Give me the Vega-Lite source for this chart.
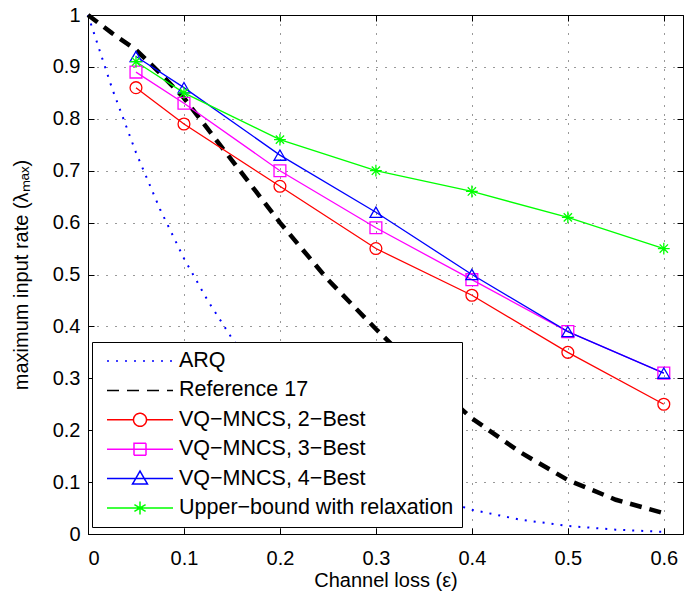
{
  "$schema": "https://vega.github.io/schema/vega-lite/v6.json",
  "width": 595,
  "height": 519,
  "autosize": {"type": "none"},
  "padding": {"left": 88, "top": 15, "right": 1, "bottom": 62},
  "background": "white",
  "config": {
    "font": "Liberation Sans",
    "view": {"stroke": "black", "strokeWidth": 1},
    "axis": {
      "labelFont": "Liberation Sans", "labelFontSize": 20, "labelColor": "black",
      "titleFont": "Liberation Sans", "titleFontSize": 20, "titleFontWeight": "normal", "titleColor": "black",
      "domainColor": "black", "tickColor": "black", "gridColor": "black", "gridDash": [1, 8], "gridOpacity": 0.8
    }
  },
  "datasets": {
    "curves": [
      {"series": "ARQ", "eps": 0, "val": 1},
      {"series": "ARQ", "eps": 0.025, "val": 0.859},
      {"series": "ARQ", "eps": 0.05, "val": 0.735},
      {"series": "ARQ", "eps": 0.075, "val": 0.626},
      {"series": "ARQ", "eps": 0.1, "val": 0.531},
      {"series": "ARQ", "eps": 0.125, "val": 0.449},
      {"series": "ARQ", "eps": 0.15, "val": 0.377},
      {"series": "ARQ", "eps": 0.175, "val": 0.315},
      {"series": "ARQ", "eps": 0.2, "val": 0.262},
      {"series": "ARQ", "eps": 0.225, "val": 0.217},
      {"series": "ARQ", "eps": 0.25, "val": 0.178},
      {"series": "ARQ", "eps": 0.275, "val": 0.145},
      {"series": "ARQ", "eps": 0.3, "val": 0.118},
      {"series": "ARQ", "eps": 0.35, "val": 0.0754},
      {"series": "ARQ", "eps": 0.4, "val": 0.0467},
      {"series": "ARQ", "eps": 0.45, "val": 0.0277},
      {"series": "ARQ", "eps": 0.5, "val": 0.0156},
      {"series": "ARQ", "eps": 0.55, "val": 0.0083},
      {"series": "ARQ", "eps": 0.6, "val": 0.0041},
      {"series": "Reference 17", "eps": 0, "val": 1},
      {"series": "Reference 17", "eps": 0.025, "val": 0.965},
      {"series": "Reference 17", "eps": 0.05, "val": 0.933},
      {"series": "Reference 17", "eps": 0.075, "val": 0.888},
      {"series": "Reference 17", "eps": 0.1, "val": 0.84},
      {"series": "Reference 17", "eps": 0.125, "val": 0.78},
      {"series": "Reference 17", "eps": 0.15, "val": 0.72},
      {"series": "Reference 17", "eps": 0.175, "val": 0.66},
      {"series": "Reference 17", "eps": 0.2, "val": 0.6},
      {"series": "Reference 17", "eps": 0.25, "val": 0.49},
      {"series": "Reference 17", "eps": 0.3, "val": 0.395},
      {"series": "Reference 17", "eps": 0.35, "val": 0.305},
      {"series": "Reference 17", "eps": 0.4, "val": 0.223},
      {"series": "Reference 17", "eps": 0.45, "val": 0.158},
      {"series": "Reference 17", "eps": 0.5, "val": 0.104},
      {"series": "Reference 17", "eps": 0.55, "val": 0.066},
      {"series": "Reference 17", "eps": 0.6, "val": 0.04}
    ],
    "pts": [
      {"series": "VQ−MNCS, 2−Best", "eps": 0.05, "val": 0.86},
      {"series": "VQ−MNCS, 2−Best", "eps": 0.1, "val": 0.79},
      {"series": "VQ−MNCS, 2−Best", "eps": 0.2, "val": 0.67},
      {"series": "VQ−MNCS, 2−Best", "eps": 0.3, "val": 0.55},
      {"series": "VQ−MNCS, 2−Best", "eps": 0.4, "val": 0.46},
      {"series": "VQ−MNCS, 2−Best", "eps": 0.5, "val": 0.35},
      {"series": "VQ−MNCS, 2−Best", "eps": 0.6, "val": 0.25},
      {"series": "VQ−MNCS, 3−Best", "eps": 0.05, "val": 0.89},
      {"series": "VQ−MNCS, 3−Best", "eps": 0.1, "val": 0.83},
      {"series": "VQ−MNCS, 3−Best", "eps": 0.2, "val": 0.7},
      {"series": "VQ−MNCS, 3−Best", "eps": 0.3, "val": 0.59},
      {"series": "VQ−MNCS, 3−Best", "eps": 0.4, "val": 0.49},
      {"series": "VQ−MNCS, 3−Best", "eps": 0.5, "val": 0.39},
      {"series": "VQ−MNCS, 3−Best", "eps": 0.6, "val": 0.31},
      {"series": "VQ−MNCS, 4−Best", "eps": 0.05, "val": 0.92},
      {"series": "VQ−MNCS, 4−Best", "eps": 0.1, "val": 0.86},
      {"series": "VQ−MNCS, 4−Best", "eps": 0.2, "val": 0.73},
      {"series": "VQ−MNCS, 4−Best", "eps": 0.3, "val": 0.62},
      {"series": "VQ−MNCS, 4−Best", "eps": 0.4, "val": 0.5},
      {"series": "VQ−MNCS, 4−Best", "eps": 0.5, "val": 0.39},
      {"series": "VQ−MNCS, 4−Best", "eps": 0.6, "val": 0.31},
      {"series": "Upper−bound with relaxation", "eps": 0.05, "val": 0.91},
      {"series": "Upper−bound with relaxation", "eps": 0.1, "val": 0.85},
      {"series": "Upper−bound with relaxation", "eps": 0.2, "val": 0.76},
      {"series": "Upper−bound with relaxation", "eps": 0.3, "val": 0.7},
      {"series": "Upper−bound with relaxation", "eps": 0.4, "val": 0.66},
      {"series": "Upper−bound with relaxation", "eps": 0.5, "val": 0.61},
      {"series": "Upper−bound with relaxation", "eps": 0.6, "val": 0.55}
    ]
  },
  "layer": [
    {
      "data": {"name": "curves"},
      "mark": {"type": "line", "strokeCap": "butt"},
      "encoding": {
        "x": {
          "field": "eps", "type": "quantitative",
          "scale": {"domain": [0, 0.62], "nice": false, "zero": false},
          "axis": {"values": [0, 0.1, 0.2, 0.3, 0.4, 0.5, 0.6], "format": "~g", "title": "Channel loss (ε)", "grid": true, "tickSize": -6, "labelPadding": 20, "titlePadding": 2}
        },
        "y": {
          "field": "val", "type": "quantitative",
          "scale": {"domain": [0, 1], "nice": false},
          "axis": {"values": [0, 0.1, 0.2, 0.3, 0.4, 0.5, 0.6, 0.7, 0.8, 0.9, 1], "format": "~g", "title": "maximum input rate (λₘₐₓ)", "grid": true, "tickSize": -6, "labelPadding": 14, "titlePadding": 21}
        },
        "color": {"field": "series", "type": "nominal", "scale": {"domain": ["ARQ", "Reference 17"], "range": ["#0000ff", "#000000"]}, "legend": null},
        "strokeDash": {"field": "series", "type": "nominal", "scale": {"domain": ["ARQ", "Reference 17"], "range": [[2, 7], [12, 8]]}, "legend": null},
        "strokeWidth": {"field": "series", "type": "nominal", "scale": {"domain": ["ARQ", "Reference 17"], "range": [2, 4.5]}, "legend": null}
      }
    },
    {
      "data": {"name": "pts"},
      "mark": {"type": "line", "strokeWidth": 1.3},
      "encoding": {
        "x": {"field": "eps", "type": "quantitative", "axis": {"orient": "top", "labels": false, "grid": false, "domain": false, "tickSize": -6, "title": null, "values": [0, 0.1, 0.2, 0.3, 0.4, 0.5, 0.6]}},
        "y": {"field": "val", "type": "quantitative", "axis": {"orient": "right", "labels": false, "grid": false, "domain": false, "tickSize": -6, "title": null, "values": [0, 0.1, 0.2, 0.3, 0.4, 0.5, 0.6, 0.7, 0.8, 0.9, 1]}},
        "color": {"field": "series", "type": "nominal", "scale": {"domain": ["VQ−MNCS, 2−Best", "VQ−MNCS, 3−Best", "VQ−MNCS, 4−Best", "Upper−bound with relaxation"], "range": ["#ff0000", "#ff00ff", "#0000ff", "#00ff00"]}, "legend": null}
      }
    },
    {
      "data": {"name": "pts"},
      "mark": {"type": "point", "filled": false, "size": 140, "strokeWidth": 1.3, "opacity": 1},
      "encoding": {
        "x": {"field": "eps", "type": "quantitative", "axis": null},
        "y": {"field": "val", "type": "quantitative", "axis": null},
        "color": {"field": "series", "type": "nominal", "scale": {"domain": ["VQ−MNCS, 2−Best", "VQ−MNCS, 3−Best", "VQ−MNCS, 4−Best", "Upper−bound with relaxation"], "range": ["#ff0000", "#ff00ff", "#0000ff", "#00ff00"]}, "legend": null},
        "shape": {"field": "series", "type": "nominal", "scale": {"domain": ["VQ−MNCS, 2−Best", "VQ−MNCS, 3−Best", "VQ−MNCS, 4−Best", "Upper−bound with relaxation"], "range": ["circle", "square", "triangle-up", "M0,-1L0,1M-1,0L1,0M-0.7,-0.7L0.7,0.7M-0.7,0.7L0.7,-0.7"]}, "legend": null}
      }
    },
    {
      "data": {"name": "pts"},
      "transform": [{"filter": "datum.val > 5"}],
      "mark": {"type": "point", "filled": false, "size": 400, "opacity": 1},
      "encoding": {
        "x": {"field": "eps", "type": "quantitative", "axis": null},
        "y": {"field": "val", "type": "quantitative", "axis": null},
        "color": {
          "field": "series", "type": "nominal",
          "scale": {"domain": ["ARQ", "Reference 17", "VQ−MNCS, 2−Best", "VQ−MNCS, 3−Best", "VQ−MNCS, 4−Best", "Upper−bound with relaxation"], "range": ["#0000ff", "#000000", "#ff0000", "#ff00ff", "#0000ff", "#00ff00"]},
          "legend": {
            "orient": "none", "legendX": 4, "legendY": 327, "title": null,
            "fillColor": "white", "strokeColor": "black", "padding": 8,
            "symbolSize": 400, "symbolOffset": 29,
            "labelFont": "Liberation Sans", "labelFontSize": 21.5, "labelColor": "black", "labelOffset": 28, "rowPadding": 7.4, "labelLimit": 400,
            "encode": {"symbols": {"update": {"strokeWidth": {"signal": "datum.value == 'Reference 17' ? 4.5 : datum.value == 'ARQ' ? 2 : 1.2"}}}}
          }
        },
        "shape": {
          "field": "series", "type": "nominal",
          "scale": {"domain": ["ARQ", "Reference 17", "VQ−MNCS, 2−Best", "VQ−MNCS, 3−Best", "VQ−MNCS, 4−Best", "Upper−bound with relaxation"],
            "range": ["M-3.3,0L3.3,0", "M-3.3,0L3.3,0",
              "M-3.3,0L-0.65,0M0.65,0L3.3,0M0.65,0A0.65,0.65 0 1,1 -0.65,0A0.65,0.65 0 1,1 0.65,0",
              "M-3.3,0L3.3,0M-0.6,-0.6L0.6,-0.6L0.6,0.6L-0.6,0.6Z",
              "M-3.3,0L3.3,0M0,-0.75L0.75,0.55L-0.75,0.55Z",
              "M-3.3,0L3.3,0M0,-0.65L0,0.65M-0.56,-0.33L0.56,0.33M-0.56,0.33L0.56,-0.33"]}
        },
        "strokeDash": {
          "field": "series", "type": "nominal",
          "scale": {"domain": ["ARQ", "Reference 17", "VQ−MNCS, 2−Best", "VQ−MNCS, 3−Best", "VQ−MNCS, 4−Best", "Upper−bound with relaxation"], "range": [[2, 7], [12, 8], [1, 0], [1, 0], [1, 0], [1, 0]]}
        }
      }
    }
  ],
  "resolve": {
    "scale": {"color": "independent", "shape": "independent", "strokeDash": "independent", "strokeWidth": "independent"},
    "axis": {"x": "independent", "y": "independent"}
  }
}
